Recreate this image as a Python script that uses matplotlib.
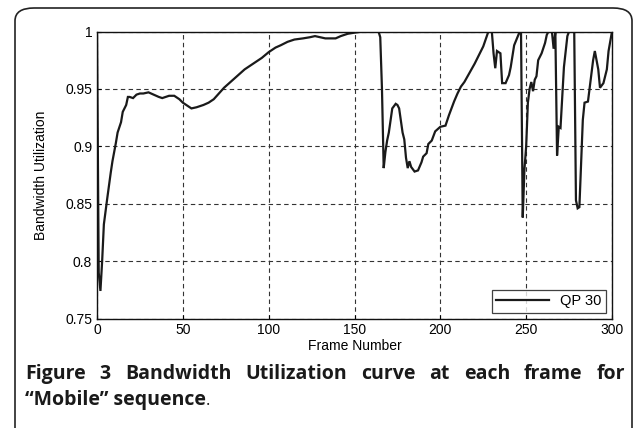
import matplotlib
matplotlib.use("Agg")
import matplotlib.pyplot as plt
from matplotlib.patches import FancyBboxPatch

frames = [0, 1, 2, 3, 4, 6, 8, 9, 11, 12, 14, 15, 17, 18, 19, 21, 23, 25, 27, 30,
          33, 36, 38, 40, 42, 45, 48, 50, 53, 55, 58, 62, 65, 68, 71, 74, 77, 80,
          83, 86, 89, 92, 96, 100, 104, 107, 111, 115, 120, 124, 127, 130, 133,
          136, 139, 142, 146, 150, 155, 160, 164, 165, 166, 167, 168, 169, 170,
          172, 174, 175, 176, 178, 179, 180, 181, 182, 183, 185, 187, 189, 190,
          192, 193, 195, 197, 200, 203, 205, 208, 210, 212, 214, 217, 220, 222,
          225, 228, 230, 231, 232, 233, 235, 236, 238, 240, 241, 243, 246, 247,
          248, 249, 250, 251, 252, 253, 254, 255, 256, 257, 259, 261, 262, 263,
          265, 266, 267, 268, 269, 270, 272, 274, 275, 278, 279, 280, 281, 283,
          284, 286, 287, 289, 290, 291, 292, 293, 295, 297, 298, 300]
utilization = [1.0, 0.79, 0.774, 0.80, 0.832, 0.855, 0.877, 0.887, 0.903, 0.912,
               0.921, 0.930, 0.936, 0.943, 0.943, 0.942, 0.945, 0.946, 0.946, 0.947,
               0.945, 0.943, 0.942, 0.943, 0.944, 0.944, 0.941, 0.938, 0.935, 0.933,
               0.934, 0.936, 0.938, 0.941, 0.946, 0.951, 0.955, 0.959, 0.963, 0.967,
               0.970, 0.973, 0.977, 0.982, 0.986, 0.988, 0.991, 0.993, 0.994, 0.995,
               0.996, 0.995, 0.994, 0.994, 0.994, 0.996, 0.998, 0.999, 1.0, 1.0,
               1.0, 0.995, 0.95, 0.881, 0.895, 0.905, 0.912, 0.933, 0.937, 0.936,
               0.933, 0.912, 0.906, 0.890, 0.881, 0.887, 0.882, 0.878, 0.879, 0.886,
               0.891, 0.894, 0.902, 0.905, 0.913, 0.917, 0.918, 0.927, 0.939, 0.946,
               0.952, 0.956, 0.964, 0.972, 0.978, 0.987, 1.0, 1.0, 0.981, 0.968,
               0.983, 0.981, 0.955, 0.955, 0.962, 0.969, 0.988, 0.999, 1.0, 0.838,
               0.88, 0.900, 0.938, 0.950, 0.956, 0.948, 0.958, 0.961, 0.975, 0.981,
               0.990, 0.997, 1.0, 1.0, 0.985, 1.0, 0.892, 0.917, 0.916, 0.969,
               0.996, 1.0, 1.0, 0.853, 0.846, 0.847, 0.923, 0.938, 0.939, 0.951,
               0.975, 0.983, 0.975, 0.967, 0.951, 0.955, 0.967, 0.983, 1.0]
series_label = "QP 30"
x_ticks = [0, 50, 100, 150, 200, 250, 300]
y_ticks = [0.75, 0.8, 0.85, 0.9, 0.95, 1.0]
y_tick_labels = ["0.75", "0.8", "0.85", "0.9", "0.95", "1"]

W, H = 635, 428
fig = plt.figure(figsize=(W / 100, H / 100), dpi=100)
fig.patch.set_facecolor("white")

# rounded frame around the whole figure
frame = FancyBboxPatch((15 / W, -0.2), (632 - 15) / W, (428 - 8) / H + 0.2,
                       boxstyle="round,pad=0,rounding_size=0.03",
                       transform=fig.transFigure, fill=False,
                       edgecolor="#222222", linewidth=1.2, clip_on=False)
fig.patches.append(frame)

ax = fig.add_axes([97 / W, 1 - 318.5 / H, (612 - 97) / W, (318.5 - 31.5) / H])
ax.plot(frames, utilization, color="#1a1a1a", linewidth=1.6, label=series_label,
        solid_joinstyle="miter")
ax.set_xlim(0, 300)
ax.set_ylim(0.75, 1.0)
ax.set_xticks(x_ticks)
ax.set_yticks(y_ticks)
ax.set_yticklabels(y_tick_labels)
ax.grid(True, linestyle=(0, (4, 3)), color="#333333", linewidth=0.8)
ax.tick_params(direction="in", length=3, labelsize=10, width=0.8)
for lab in ax.get_xticklabels() + ax.get_yticklabels():
    lab.set_fontfamily("Liberation Sans")
for s in ax.spines.values():
    s.set_linewidth(1.0)
    s.set_color("#111111")
ax.set_xlabel("Frame Number", fontsize=10, family="Liberation Sans", labelpad=1)
ax.set_ylabel("Bandwidth Utilization", fontsize=10, family="Liberation Sans", labelpad=12)
leg = ax.legend(loc="lower right", frameon=True, fancybox=False,
                prop={"family": "Liberation Sans", "size": 10.5},
                borderaxespad=0.4, handlelength=3.6, borderpad=0.3)
leg.get_frame().set_edgecolor("#111111")
leg.get_frame().set_linewidth(0.9)

# caption, first line justified
line1 = ["Figure", "3", "Bandwidth", "Utilization", "curve", "at", "each", "frame", "for"]
cap_size = 14
y1 = 1 - 379 / H
texts = []
for w in line1:
    t = fig.text(0, y1, w, fontsize=cap_size, family="Open Sans", weight="bold",
                 color="#1a1a1a", va="baseline", ha="left")
    texts.append(t)
fig.canvas.draw()
r = fig.canvas.get_renderer()
widths = [t.get_window_extent(r).width for t in texts]
x_left, x_right = 25, 625
gap = (x_right - x_left - sum(widths)) / (len(texts) - 1)
x = x_left
for t, wdt in zip(texts, widths):
    t.set_x(x / W)
    x += wdt + gap

y2 = 1 - 405 / H
t2 = fig.text(x_left / W, y2, "\u201cMobile\u201d sequence", fontsize=cap_size,
              family="Open Sans", weight="bold", color="#1a1a1a", va="baseline")
fig.canvas.draw()
bb = t2.get_window_extent(r)
fig.text(bb.x1 / W, y2, ".", fontsize=cap_size * 0.85, family="Open Sans",
         weight="normal", color="#1a1a1a", va="baseline")

fig.savefig("out.png", dpi=100, facecolor="white")
